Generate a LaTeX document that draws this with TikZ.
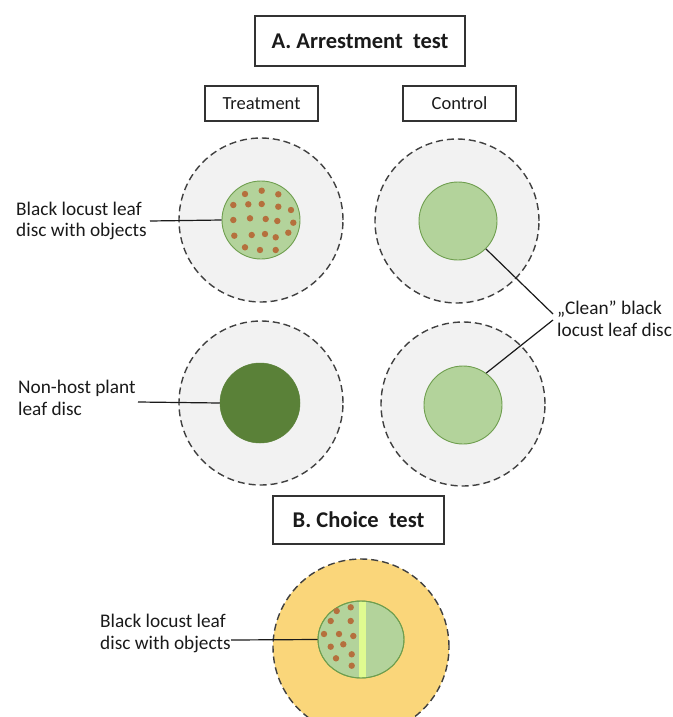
\documentclass[tikz,border=0pt]{standalone}
\usepackage{fontspec}
\setmainfont{Carlito}
\usetikzlibrary{shapes.geometric}
\definecolor{dishgray}{HTML}{F2F2F2}
\definecolor{dashgray}{HTML}{404040}
\definecolor{leafgreen}{HTML}{B3D39B}
\definecolor{leafedge}{HTML}{6E9E4E}
\definecolor{darkleaf}{HTML}{5A8138}
\definecolor{dotbrown}{HTML}{B5703D}
\definecolor{dishyellow}{HTML}{FAD67A}
\definecolor{stripegreen}{HTML}{DFFB90}
\definecolor{txt}{HTML}{1A1A1A}
\definecolor{boxline}{HTML}{333333}
\begin{document}
\begin{tikzpicture}[x=1pt,y=-1pt,
  dish/.style={circle, draw=dashgray, fill=dishgray, dash pattern=on 7pt off 4pt, line width=1.4pt, minimum size=164pt, inner sep=0pt},
  leaf/.style={circle, draw=leafedge, fill=leafgreen, line width=0.9pt, minimum size=78pt, inner sep=0pt},
  hostleaf/.style={circle, draw=darkleaf, fill=darkleaf, line width=0.5pt, minimum size=80pt, inner sep=0pt},
  titlebox/.style={draw=boxline, line width=1.2pt, text=txt, font=\bfseries\fontsize{22.5}{26}\selectfont, minimum height=50pt, inner sep=0pt},
  groupbox/.style={draw=boxline, line width=1.2pt, text=txt, font=\fontsize{18.5}{22}\selectfont, minimum width=113pt, minimum height=35pt, inner sep=0pt},
  lbl/.style={align=left, anchor=west, text=txt, font=\fontsize{19.3}{21.5}\selectfont, inner sep=0pt},
  leader/.style={draw=txt, line width=1.2pt},
  bug/.style={fill=dotbrown}
]
\useasboundingbox (0,0) rectangle (672,717);
\clip (0,0) rectangle (672,717);

% titles
\node[titlebox, minimum width=210pt] (titleA) at (360,41) {A. Arrestment~ test};
\node[groupbox] (treat) at (261.5,103.5) {Treatment};
\node[groupbox] (ctrl) at (459.5,103.5) {Control};
\node[titlebox, minimum width=171pt, minimum height=48pt] (titleB) at (358.5,520) {B. Choice~ test};

% dishes arrestment
\node[dish] (d1) at (261,220) {};
\node[dish] (d2) at (457,221) {};
\node[dish] (d3) at (261,403) {};
\node[dish] (d4) at (463,404) {};

\node[leaf] (l1) at (261,220) {};
\node[leaf] (l2) at (458,221) {};
\node[hostleaf] (l3) at (260,403) {};
\node[leaf] (l4) at (463,405) {};

% objects on treated disc
\foreach \p in {(245,194),(261.7,190.7),(278.3,194.3),
  (233.3,205),(248.3,204.3),(261.7,204),(278.3,206.7),(291,210),
  (233.3,220),(250,218.3),(265.7,219),(277.3,221),(293.3,222.7),
  (234.3,235.7),(251.7,235),(265,234),(275.7,237.3),(288.3,232.7),
  (245,247.3),(260,250),(275.7,250)}
  \fill[bug] \p circle (3.2pt);

% labels arrestment
\node[lbl] (lab1) at (16,221) {Black locust leaf\\disc with objects};
\coordinate (s1) at (150,221);
\draw[leader] (s1) -- (l1.west);

\node[lbl] (lab3) at (18,398) {Non-host plant\\leaf disc};
\coordinate (s3) at (138,402);
\draw[leader] (s3) -- (l3.west);

\node[lbl] (lab2) at (557,319) {„Clean” black\\locust leaf disc};
\coordinate (v1) at (553,314);
\coordinate (v2) at (553,320);
\draw[leader] (l2.-45) -- (v1);
\draw[leader] (l4.54) -- (v2);

% choice test
\node[dish, fill=dishyellow, minimum size=176pt] (d5) at (361,647) {};
\node[ellipse, draw=leafedge, fill=leafgreen, line width=0.9pt, minimum width=86pt, minimum height=77pt, inner sep=0pt] (l5) at (361,639.5) {};
\begin{scope}
  \clip (361,639.5) ellipse (42.5 and 38);
  \fill[stripegreen] (359,595) rectangle (366,685);
\end{scope}
\draw[leafedge, line width=0.9pt] (361,639.5) ellipse (43 and 38.5);
\foreach \p in {(336.7,611),(350.7,607.3),(330.7,621),(350.7,621),
  (324,634),(339,634),(353.3,636),(330.7,646.7),(343.3,644.3),
  (336,658.3),(351.7,654.3),(351.7,665.7)}
  \fill[bug] \p circle (3.2pt);

\node[lbl] (lab5) at (100,633.5) {Black locust leaf\\disc with objects};
\coordinate (s5) at (231,640);
\draw[leader] (s5) -- (l5.west);
\end{tikzpicture}
\end{document}
